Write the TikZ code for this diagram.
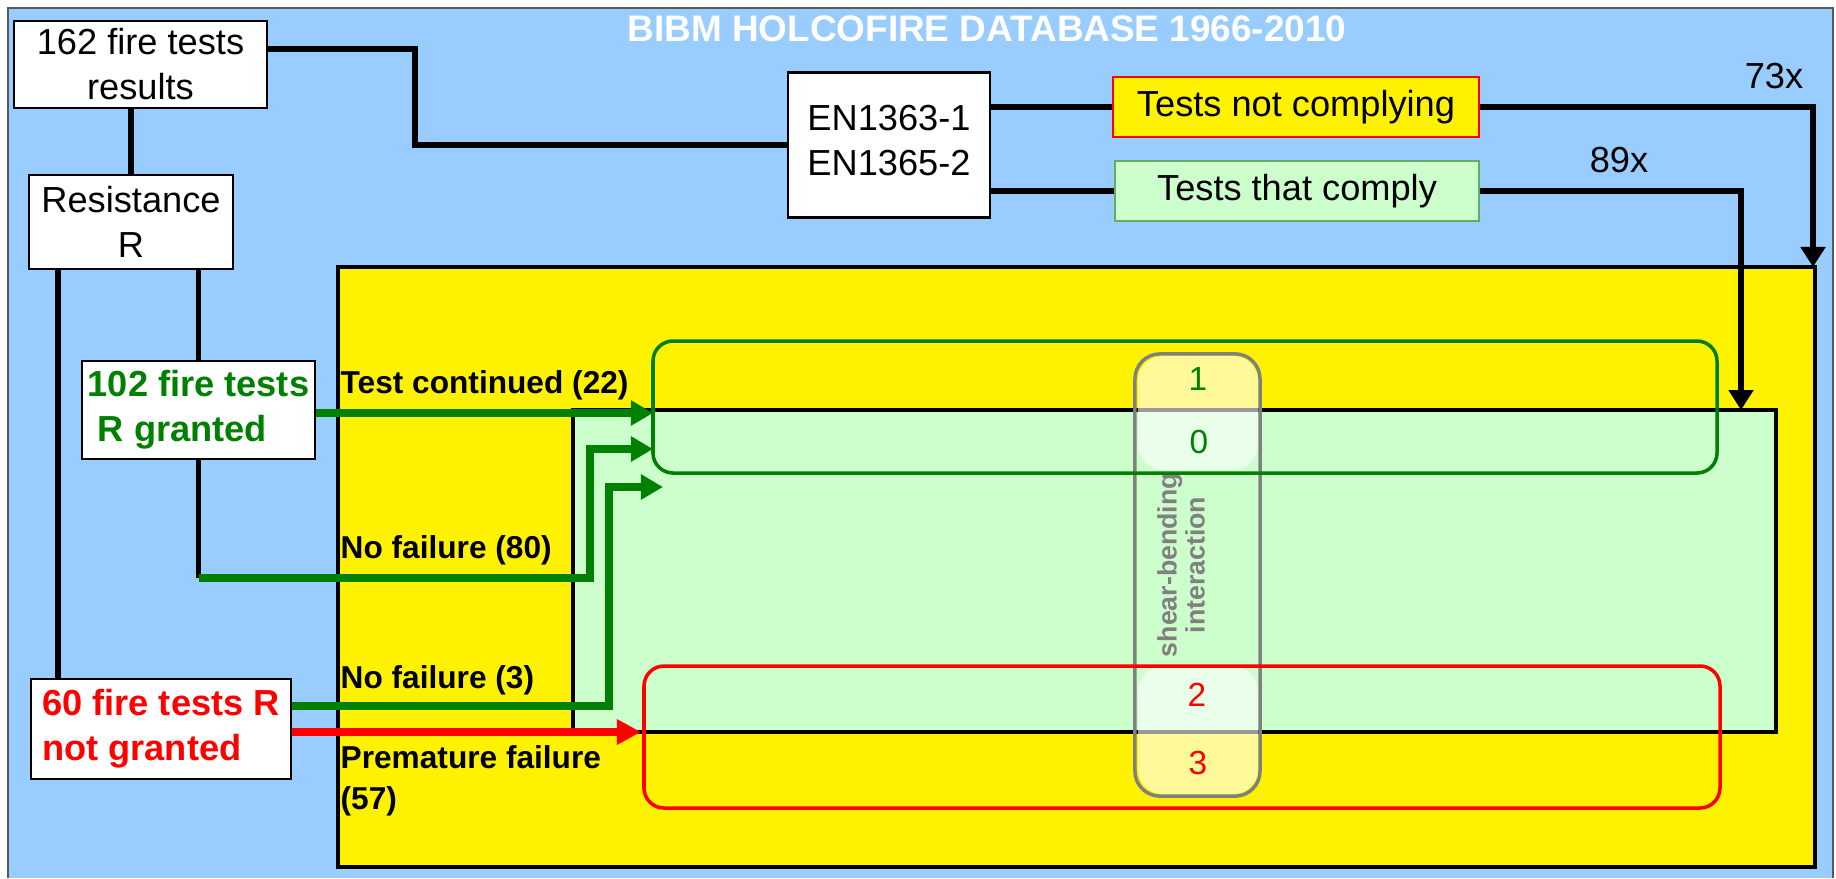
\documentclass[tikz,border=0pt]{standalone}
\usepackage{fontspec}
\setmainfont{Liberation Sans}
\usetikzlibrary{arrows.meta}
\definecolor{bgblue}{HTML}{99CCFF}
\definecolor{palegreen}{HTML}{CCFFCC}
\definecolor{dkgreen}{HTML}{008000}
\definecolor{midgreen}{HTML}{5FAF5F}
\tikzset{
  box/.style={draw, fill=white, line width=0.6pt, inner sep=0pt, align=center,
    font=\fontsize{10.3}{12.8}\selectfont},
  conn/.style={line width=1.7pt},
  blkarrow/.style={conn, -{Triangle[length=2mm,width=2.4mm]}},
  grnarrow/.style={draw=dkgreen, line width=2.1pt, -{Triangle[length=2.2mm,width=2.4mm]}},
  redarrow/.style={draw=red, line width=2.1pt, -{Triangle[length=2.4mm,width=2.4mm]}},
  lbl/.style={anchor=west, inner sep=0pt, font=\fontsize{9}{11.5}\selectfont\bfseries},
  cell/.style={font=\fontsize{9.5}{11}\selectfont},
}
\begin{document}
\begin{tikzpicture}[x=0.01cm, y=-0.01cm]
    \useasboundingbox (0,0) rectangle (1836,878);
    % Fundo
    \fill[bgblue] (8,8) rectangle (1833,878);
    \draw[gray!70!black, line width=0.5pt] (8,878) -- (8,8) -- (1833,8) -- (1833,878);
    \node[text=white, font=\fontsize{10.5}{12}\selectfont\bfseries] (title) at (987,29) {BIBM HOLCOFIRE DATABASE 1966-2010};
    % Area amarela e testes conformes
    \draw[fill=yellow, line width=1pt] (338,267) rectangle (1815,867);
    \draw[fill=palegreen, line width=1.4pt] (573,410) rectangle (1776,732);
    % Caixas
    \node[box, minimum width=2.53cm, minimum height=0.87cm] (results) at (140.5,64.5) {162 fire tests\\results};
    \node[box, minimum width=2.03cm, minimum height=0.94cm] (resist) at (131,222) {Resistance\\R};
    \node[box, minimum width=2.02cm, minimum height=1.45cm, text depth=0.1cm] (en) at (889,145) {EN1363-1\\EN1365-2};
    \node[box, fill=yellow, draw=red, minimum width=3.66cm, minimum height=0.60cm] (nc) at (1296,107) {Tests not complying};
    \node[box, fill=palegreen, draw=midgreen, minimum width=3.64cm, minimum height=0.60cm] (comply) at (1297,191) {Tests that comply};
    \node[box, text=dkgreen, align=left, font=\fontsize{10.3}{12.8}\selectfont\bfseries, minimum width=2.33cm, minimum height=0.98cm] (granted) at (198.5,410) {102 fire tests\\\ R granted};
    \node[box, text=red, align=left, font=\fontsize{10.3}{12.8}\selectfont\bfseries, minimum width=2.60cm, minimum height=1.00cm] (notgranted) at (161,729) {60 fire tests R\\not granted};
    % Normas
    \draw[conn] ([yshift=1.55mm]results.east) -| (415,120) |- (en.west);
    \draw[conn] (en.east |- nc.west) -- (nc.west);
    \draw[conn] (en.east |- comply.west) -- (comply.west);
    \coordinate (in73) at (1813,267);
    \coordinate (in89) at (1741,410);
    \draw[blkarrow] (nc.east) -| (in73);
    \draw[blkarrow] (comply.east) -| (in89);
    \node[font=\fontsize{10.3}{12}\selectfont] (n73) at (1774,76) {73x};
    \node[font=\fontsize{10.3}{12}\selectfont] (n89) at (1619,160) {89x};
    % Resistencia R
    \draw[conn] (resist.north |- results.south) -- (resist.north);
    \draw[conn] ([xshift=-7.3mm]resist.south) -- ([xshift=-7.3mm]resist.south |- notgranted.north);
    \draw[conn] (resist.south -| granted.north) -- (granted.north);
    \coordinate (c80) at (198.5,578);
    \draw[conn] (granted.south) -- (c80);
    % Setas
    \coordinate (t22) at (653,413);
    \coordinate (t80) at (653,449);
    \coordinate (t3) at (663,487);
    \coordinate (t57) at (641,732);
    \draw[grnarrow] (granted.east |- t22) -- (t22);
    \draw[grnarrow] (c80) -| (590,500) |- (t80);
    \draw[grnarrow] ([yshift=2.3mm]notgranted.east) -| (609,600) |- (t3);
    \draw[redarrow] (notgranted.east |- t57) -- (t57);
    \node[lbl] (l22) at (340,385) {Test continued (22)};
    \node[lbl] (l80) at (340,550) {No failure (80)};
    \node[lbl] (l3) at (340,680) {No failure (3)};
    \node[lbl, anchor=north west, align=left] (l57) at (340,745) {Premature failure\\(57)};
    % Interacao
    \fill[white, opacity=0.6, rounded corners=2.5mm] (1138,356) rectangle (1258,470);
    \fill[white, opacity=0.6, rounded corners=2.5mm] (1138,666) rectangle (1258,794);
    \node[draw=gray, line width=1pt, rounded corners=2.5mm, minimum width=1.25cm, minimum height=4.42cm] (sbcol) at (1197.5,575) {};
    \node[rotate=90, text=gray, align=center, font=\fontsize{7.6}{8}\selectfont\bfseries] (sbtext) at (1181,565) {shear-bending\\interaction};
    \node[cell, text=dkgreen] (d1) at (1198,379) {1};
    \node[cell, text=dkgreen] (d0) at (1199,442) {0};
    \node[cell, text=red] (d2) at (1197,695) {2};
    \node[cell, text=red] (d3) at (1198,763) {3};
    % Grupos
    \draw[dkgreen, line width=1pt, rounded corners=2mm] (653,341) rectangle (1717,473);
    \draw[red, line width=1pt, rounded corners=2mm] (644,666) rectangle (1720,808);
\end{tikzpicture}
\end{document}
